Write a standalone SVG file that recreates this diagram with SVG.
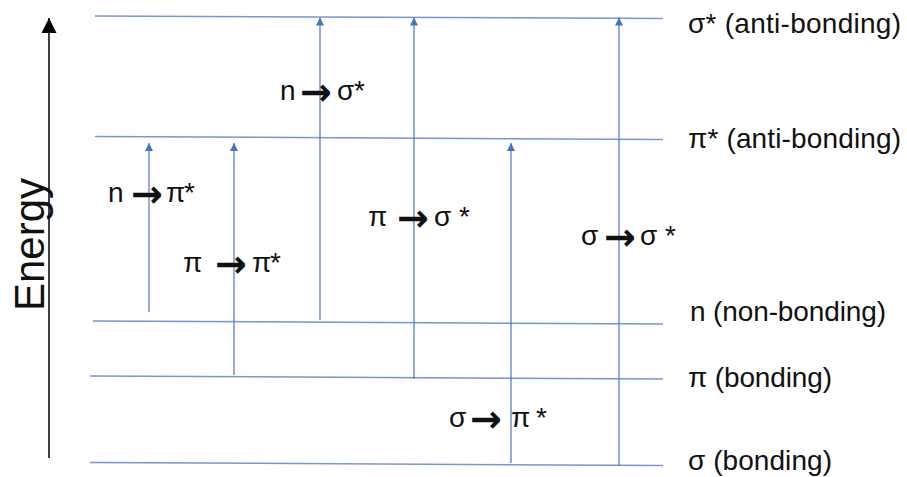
<svg xmlns="http://www.w3.org/2000/svg" width="907" height="477" viewBox="0 0 907 477">
<style>
.lvl{stroke:#7895d4;stroke-width:1.5;fill:none}
.tr{stroke:#4a74c6;stroke-width:1.2;fill:none;marker-end:url(#ah)}
.t{font-family:"Liberation Sans",Arial,sans-serif;font-size:28px;fill:#111}
.ar{font-family:"DejaVu Sans",sans-serif;font-size:38px;font-weight:bold;fill:#111}
.big{font-size:42px}
</style>
<defs>
<marker id="ah" viewBox="0 0 10 10" refX="10" refY="5" markerWidth="8" markerHeight="9" markerUnits="userSpaceOnUse" orient="auto">
<path d="M0,0 L10,5 L0,10 z" fill="#4472c4"/>
</marker>
<marker id="bk" viewBox="0 0 10 10" refX="10" refY="5" markerWidth="15" markerHeight="16" markerUnits="userSpaceOnUse" orient="auto">
<path d="M0,0 L10,5 L0,10 z" fill="#000"/>
</marker>
</defs>
<rect width="907" height="477" fill="#fff"/>

<g id="energy-axis">
<line x1="49" y1="458" x2="49" y2="18" stroke="#000" stroke-width="1.5" marker-end="url(#bk)"/>
<text class="t big" transform="translate(44,311) rotate(-90)" textLength="133" lengthAdjust="spacingAndGlyphs">Energy</text>
</g>

<g id="level-sigma-star">
<line class="lvl" x1="95" y1="16" x2="663" y2="18.5"/>
<text class="t" x="688" y="33" textLength="213">σ* (anti-bonding)</text>
</g>
<g id="level-pi-star">
<line class="lvl" x1="95" y1="136.5" x2="663" y2="139.5"/>
<text class="t" x="688" y="148" textLength="213">π* (anti-bonding)</text>
</g>
<g id="level-n">
<line class="lvl" x1="93" y1="321" x2="663" y2="324"/>
<text class="t" x="690" y="321" textLength="196">n (non-bonding)</text>
</g>
<g id="level-pi">
<line class="lvl" x1="90" y1="376" x2="663" y2="379"/>
<text class="t" x="688" y="387" textLength="144">π (bonding)</text>
</g>
<g id="level-sigma">
<line class="lvl" x1="90" y1="462.5" x2="663" y2="465.5"/>
<text class="t" x="688" y="470" textLength="144">σ (bonding)</text>
</g>

<g id="connectors">
<g id="t-n-pistar">
<line class="tr" x1="149" y1="312" x2="149" y2="143"/>
<text class="t"><tspan x="108" y="202">n</tspan><tspan class="ar" x="131" y="207">→</tspan><tspan x="166" y="202">π</tspan><tspan x="184" y="202">*</tspan></text>
</g>
<g id="t-pi-pistar">
<line class="tr" x1="234" y1="375" x2="234" y2="143"/>
<text class="t"><tspan x="183" y="272">π</tspan><tspan class="ar" x="215" y="277">→</tspan><tspan x="252" y="272">π</tspan><tspan x="270" y="272">*</tspan></text>
</g>
<g id="t-n-sigmastar">
<line class="tr" x1="320" y1="320" x2="320" y2="17.5"/>
<text class="t"><tspan x="280" y="100">n</tspan><tspan class="ar" x="300" y="105">→</tspan><tspan x="337" y="100">σ</tspan><tspan x="354" y="100">*</tspan></text>
</g>
<g id="t-pi-sigmastar">
<line class="tr" x1="414" y1="379" x2="414" y2="17.5"/>
<text class="t"><tspan x="368" y="226">π</tspan><tspan class="ar" x="397" y="231">→</tspan><tspan x="434" y="226">σ</tspan><tspan x="459" y="226">*</tspan></text>
</g>
<g id="t-sigma-pistar">
<line class="tr" x1="511" y1="463" x2="511" y2="143"/>
<text class="t"><tspan x="449" y="427">σ</tspan><tspan class="ar" x="470" y="432">→</tspan><tspan x="511" y="427">π</tspan><tspan x="536" y="427">*</tspan></text>
</g>
<g id="t-sigma-sigmastar">
<line class="tr" x1="619" y1="466" x2="619" y2="17.5"/>
<text class="t"><tspan x="581" y="245">σ</tspan><tspan class="ar" x="604" y="250">→</tspan><tspan x="640" y="245">σ</tspan><tspan x="665" y="245">*</tspan></text>
</g>
</g>
</svg>
